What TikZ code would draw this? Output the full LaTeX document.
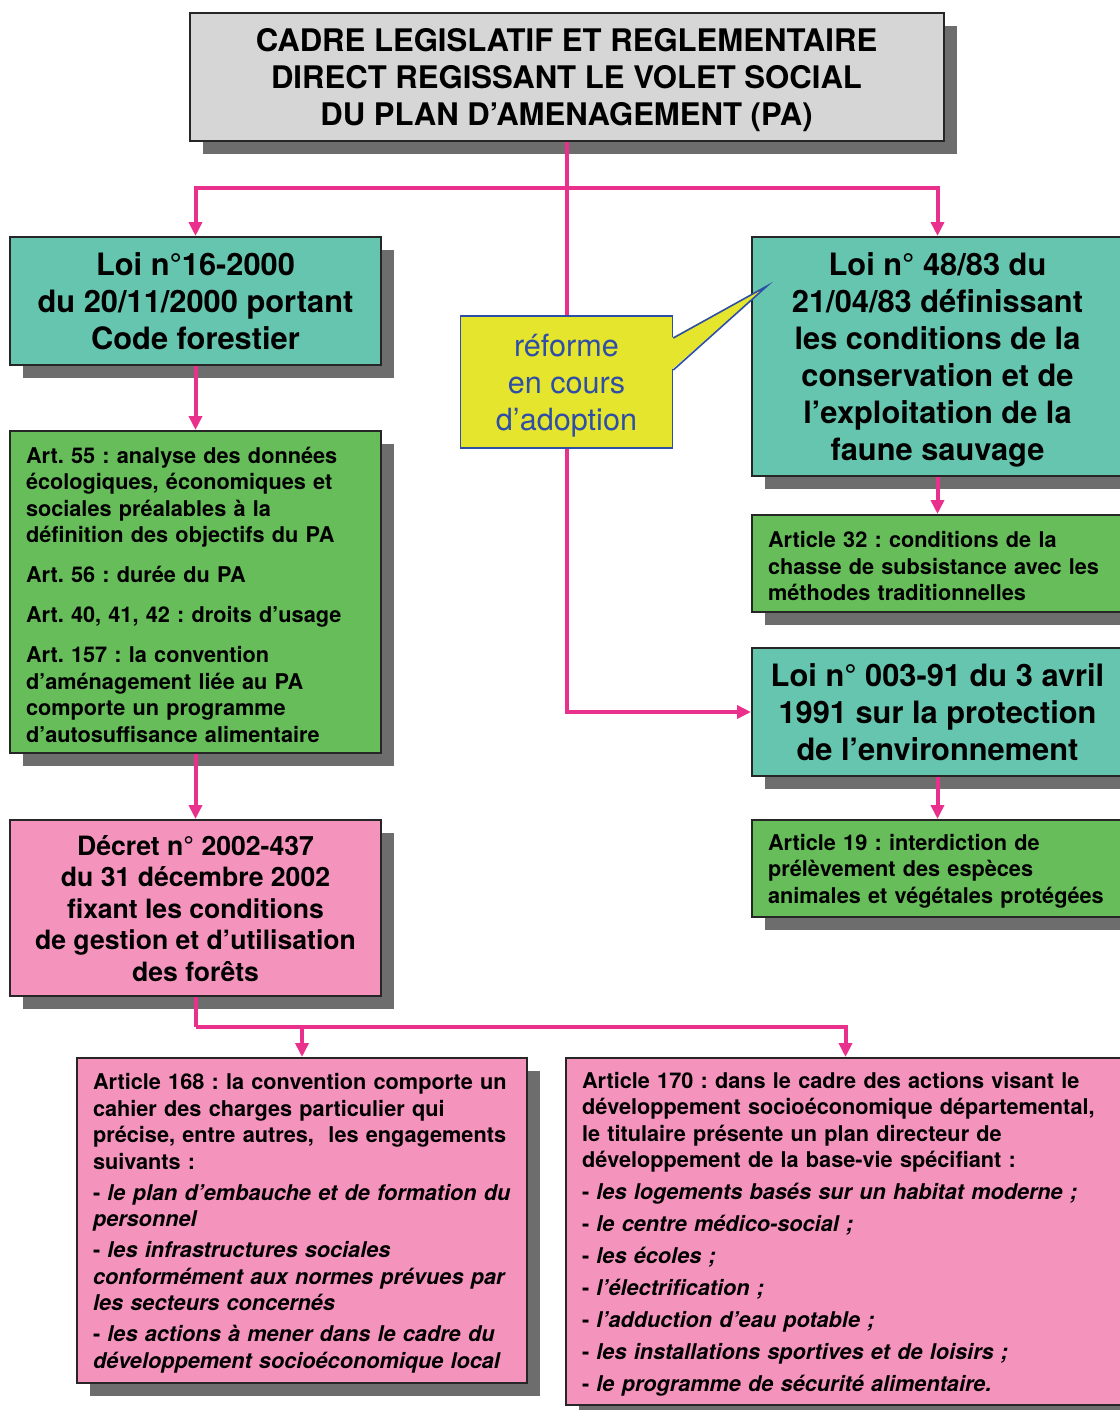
\documentclass[tikz,border=0pt]{standalone}
\usepackage{fontspec}
\setmainfont{TeX Gyre Heros}
\frenchspacing
\hyphenpenalty=10000
\usetikzlibrary{shadows,arrows.meta,calc}
\definecolor{gris}{HTML}{D6D6D6}
\definecolor{ombregris}{HTML}{6D6D6D}
\definecolor{turq}{HTML}{66C5AF}
\definecolor{vert}{HTML}{66BD59}
\definecolor{rose}{HTML}{F494BD}
\definecolor{jaune}{HTML}{E5E52E}
\definecolor{bleu}{HTML}{2E4FA5}
\definecolor{fuchsia}{HTML}{E8308C}
\newcommand{\haut}{\rule{0pt}{10.8pt}}
\tikzstyle{ombre}=[drop shadow={shadow xshift=6.5pt,shadow yshift=-6.5pt,fill=ombregris,opacity=1}]
\tikzstyle{bx}=[draw=black!85,line width=1pt,ombre]
\tikzstyle{cadre}=[bx,fill=gris,text depth=0pt,minimum width=377pt,minimum height=64pt,align=center,font=\fontsize{15.55}{18.5}\selectfont\bfseries]
\tikzstyle{loi}=[bx,fill=turq,text depth=0pt,minimum width=185.5pt,align=center,font=\fontsize{15.4}{18.5}\selectfont\bfseries]
\tikzstyle{dec}=[bx,fill=rose,text depth=0pt,minimum width=185.5pt,minimum height=88pt,align=center,font=\fontsize{13.3}{15.75}\selectfont\bfseries]
\tikzstyle{art}=[bx,text width=169.5pt,inner xsep=8pt,inner ysep=2pt,align=left,font=\fontsize{10.85}{13.25}\selectfont\bfseries]
\tikzstyle{bulle}=[draw=bleu,line width=0.8pt,fill=jaune,text=bleu,text depth=0pt,minimum width=106pt,minimum height=66pt,align=center,font=\fontsize{15.3}{18.5}\selectfont]
\tikzstyle{ligne}=[draw=fuchsia,line width=2pt]
\tikzstyle{fl}=[ligne,-{Triangle[length=7pt,width=6.5pt]}]

\begin{document}
\begin{tikzpicture}[x=0.5pt,y=-0.5pt]
\useasboundingbox (0,0) rectangle (1120,1410);
\clip (0,0) rectangle (1120,1410);
% titre
\node[cadre] (titre) at (566.5,77) {CADRE LEGISLATIF ET REGLEMENTAIRE\\DIRECT REGISSANT LE VOLET SOCIAL\\DU PLAN D’AMENAGEMENT (PA)};
% colonne gauche
\node[loi,minimum height=64pt] (loi16) at (195.5,301) {Loi n°16-2000\\du 20/11/2000 portant\\Code forestier};
\node[art,fill=vert,minimum height=161pt] (art55) at (195.5,592) {\haut Art. 55 : analyse des données\\écologiques, économiques et\\sociales préalables à la\\définition des objectifs du PA\\[6.75pt]Art. 56 : durée du PA\\[6.75pt]Art. 40, 41, 42 : droits d’usage\\[6.75pt]Art. 157 : la convention\\d’aménagement liée au PA\\comporte un programme\\d’autosuffisance alimentaire};
\node[dec] (decret) at (195.5,908) {Décret n° 2002-437\\du 31 décembre 2002\\fixant les conditions\\de gestion et d’utilisation\\des forêts};
\node[art,fill=rose,text width=209pt,minimum height=162.5pt] (art168) at (302,1220.5) {\haut Article 168 : la convention comporte un\\cahier des charges particulier qui\\précise, entre autres,~ les engagements\\suivants :\\[2.25pt]- \textit{le plan d’embauche et de formation du\\personnel}\\[2.25pt]- \textit{les infrastructures sociales\\conformément aux normes prévues par\\les secteurs concernés}\\[2.25pt]- \textit{les actions à mener dans le cadre du\\développement socioéconomique local}};
\node[art,fill=rose,text width=263.5pt,minimum height=173.5pt] (art170) at (845.5,1231.5) {\haut Article 170 : dans le cadre des actions visant le\\développement socioéconomique départemental,\\le titulaire présente un plan directeur de\\développement de la base-vie spécifiant :\\[2.75pt]- \textit{les logements basés sur un habitat moderne ;}\\[2.75pt]- \textit{le centre médico-social ;}\\[2.75pt]- \textit{les écoles ;}\\[2.75pt]- \textit{l’électrification ;}\\[2.75pt]- \textit{l’adduction d’eau potable ;}\\[2.75pt]- \textit{les installations sportives et de loisirs ;}\\[2.75pt]- \textit{le programme de sécurité alimentaire.}};
% colonne droite
\node[loi,minimum height=119.5pt] (loi48) at (937.5,356.5) {Loi n° 48/83 du\\21/04/83 définissant\\les conditions de la\\conservation et de\\l’exploitation de la\\faune sauvage};
\node[art,fill=vert,minimum height=48.5pt] (art32) at (937.5,563.5) {\haut Article 32 : conditions de la\\chasse de subsistance avec les\\méthodes traditionnelles};
\node[loi,minimum height=64pt] (loi003) at (937.5,712) {Loi n° 003-91 du 3 avril\\1991 sur la protection\\de l’environnement};
\node[art,fill=vert,minimum height=48.5pt] (art19) at (937.5,868.5) {\haut Article 19 : interdiction de\\prélèvement des espèces\\animales et végétales protégées};
% bulle
\node[bulle] (reforme) at (566.5,382) {réforme\\en cours\\d’adoption};
\coordinate (pointe) at (767,286);
\fill[jaune] ($(reforme.east)+(-2,-44)$) -- (pointe) -- ($(reforme.east)+(-2,-12)$) -- cycle;
\draw[bleu,line width=0.8pt,line join=miter] ($(reforme.east)+(0,-44)$) -- (pointe) -- ($(reforme.east)+(0,-12)$);
% liaisons
\coordinate (jonction) at (566.5,188);
\coordinate (branche) at (195.5,1027);
\draw[ligne] (titre.south) -- (reforme.north);
\draw[fl] (jonction) -| (loi16.north);
\draw[fl] (jonction) -| (loi48.north);
\draw[fl] (reforme.south) |- (loi003.west);
\draw[fl] (loi16) -- (art55);
\draw[fl] (art55) -- (decret);
\draw[fl] (loi48) -- (art32);
\draw[fl] (loi003) -- (art19);
\draw[ligne] (decret.south) -- (branche);
\draw[fl] (branche) -| (art168.north);
\draw[fl] (branche) -| (art170.north);
\end{tikzpicture}
\end{document}
